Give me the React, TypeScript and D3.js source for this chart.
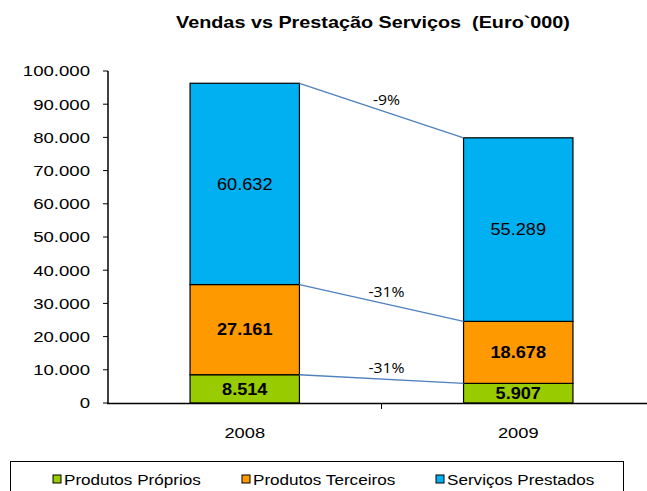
import React from "react";
import * as d3 from "d3";

const years = ["2008", "2009"];
const produtosProprios = [8514, 5907];
const produtosTerceiros = [27161, 18678];
const servicosPrestados = [60632, 55289];
const changeLabels = ["-31%", "-31%", "-9%"];
const seriesNames = ["Produtos Próprios", "Produtos Terceiros", "Serviços Prestados"];
const seriesColors = ["#99CC00", "#FF9900", "#00B0F0"];
const boldLabels = [true, true, false];
const yTicks = [0, 10000, 20000, 30000, 40000, 50000, 60000, 70000, 80000, 90000, 100000];

const W = 647;
const H = 491;
const AX = "'Liberation Sans', Arial, sans-serif";
const fmt = d3.formatLocale({ decimal: ",", thousands: ".", grouping: [3], currency: ["", ""] }).format(",d");

function SText(props: {
  x: number;
  y: number;
  sx: number;
  anchor?: "start" | "middle" | "end";
  size: number;
  bold?: boolean;
  family?: string;
  children: any;
}) {
  return (
    <text
      transform={`translate(${props.x},${props.y}) scale(${props.sx},1)`}
      dy="0.35em"
      textAnchor={props.anchor || "start"}
      fontFamily={props.family || AX}
      fontSize={props.size}
      fontWeight={props.bold ? "bold" : "normal"}
      fill="#000"
      style={{ whiteSpace: "pre" }}
    >
      {props.children}
    </text>
  );
}

export default function App() {
  const x = d3.scaleBand<string>().domain(years).range([108, 655]).padding(0);
  const y = d3.scaleLinear().domain([0, 100000]).range([403, 71]);
  const seriesData = [produtosProprios, produtosTerceiros, servicosPrestados];
  const stackInput = years.map((yr, i) => ({ year: yr, s0: seriesData[0][i], s1: seriesData[1][i], s2: seriesData[2][i] }));
  const stacked = d3.stack<any>().keys(["s0", "s1", "s2"])(stackInput);
  const bw = x.bandwidth() * 0.4;
  const barX = (yr: string) => (x(yr) as number) + x.bandwidth() / 2 - bw / 2;

  return (
    <svg width={W} height={H} style={{ position: "absolute", left: 0, top: 0, background: "#fff" }}>
      <SText x={373} y={22} sx={1.2} anchor="middle" size={16.5} bold>
        {"Vendas vs Prestação Serviços  (Euro`000)"}
      </SText>
      {/* y axis */}
      <line x1={108} x2={108} y1={y(100000)} y2={y(0)} stroke="#000" strokeWidth={1.5} />
      {yTicks.map((t) => (
        <g key={t}>
          <line x1={103} x2={108} y1={y(t)} y2={y(t)} stroke="#000" strokeWidth={1} />
          <SText x={90} y={y(t)} sx={1.2} anchor="end" size={15.5}>
            {fmt(t)}
          </SText>
        </g>
      ))}
      {/* bars */}
      {stacked.map((layer, si) =>
        layer.map((d, i) => {
          const yr = years[i];
          const y0 = y(d[0]);
          const y1 = y(d[1]);
          return (
            <rect key={si + "-" + i} x={barX(yr)} y={y1} width={bw} height={y0 - y1} fill={seriesColors[si]} stroke="#000" strokeWidth={1.2} />
          );
        })
      )}
      {stacked.map((layer, si) =>
        layer.map((d, i) => {
          const yr = years[i];
          const y0 = y(d[0]);
          const y1 = y(d[1]);
          return (
            <SText key={"l" + si + "-" + i} x={barX(yr) + bw / 2} y={(y0 + y1) / 2} sx={1.1} anchor="middle" size={16.5} bold={boldLabels[si]}>
              {fmt(seriesData[si][i])}
            </SText>
          );
        })
      )}
      {/* connector lines */}
      {stacked.map((layer, si) => {
        const x1 = barX(years[0]) + bw;
        const x2 = barX(years[1]);
        const ya = y(layer[0][1]);
        const yb = y(layer[1][1]);
        const mx = (x1 + x2) / 2 + 5;
        const my = (ya + yb) / 2 - 11;
        return (
          <g key={"c" + si}>
            <line x1={x1} y1={ya} x2={x2} y2={yb} stroke="#4F81BD" strokeWidth={1.3} />
            <SText x={mx} y={my} sx={1.05} anchor="middle" size={15} family="'Open Sans', 'Noto Sans', sans-serif">
              {changeLabels[si]}
            </SText>
          </g>
        );
      })}
      {/* x axis */}
      <line x1={107} x2={655} y1={403.5} y2={403.5} stroke="#000" strokeWidth={1.5} />
      <line x1={x(years[1]) as number} x2={x(years[1]) as number} y1={403} y2={409} stroke="#000" strokeWidth={1} />
      {years.map((yr) => (
        <SText key={yr} x={(x(yr) as number) + x.bandwidth() / 2} y={433} sx={1.18} anchor="middle" size={15.5}>
          {yr}
        </SText>
      ))}
      {/* legend */}
      <rect x={10.5} y={461.5} width={613} height={40} fill="#fff" stroke="#000" strokeWidth={1} />
      {seriesNames.map((n, i) => {
        const sx = [53, 242, 436][i];
        return (
          <g key={n}>
            <rect x={sx} y={475} width={8} height={8} fill={seriesColors[i]} stroke="#000" strokeWidth={1} />
            <SText x={sx + 11} y={479.5} sx={1.18} size={14.5}>
              {n}
            </SText>
          </g>
        );
      })}
    </svg>
  );
}
